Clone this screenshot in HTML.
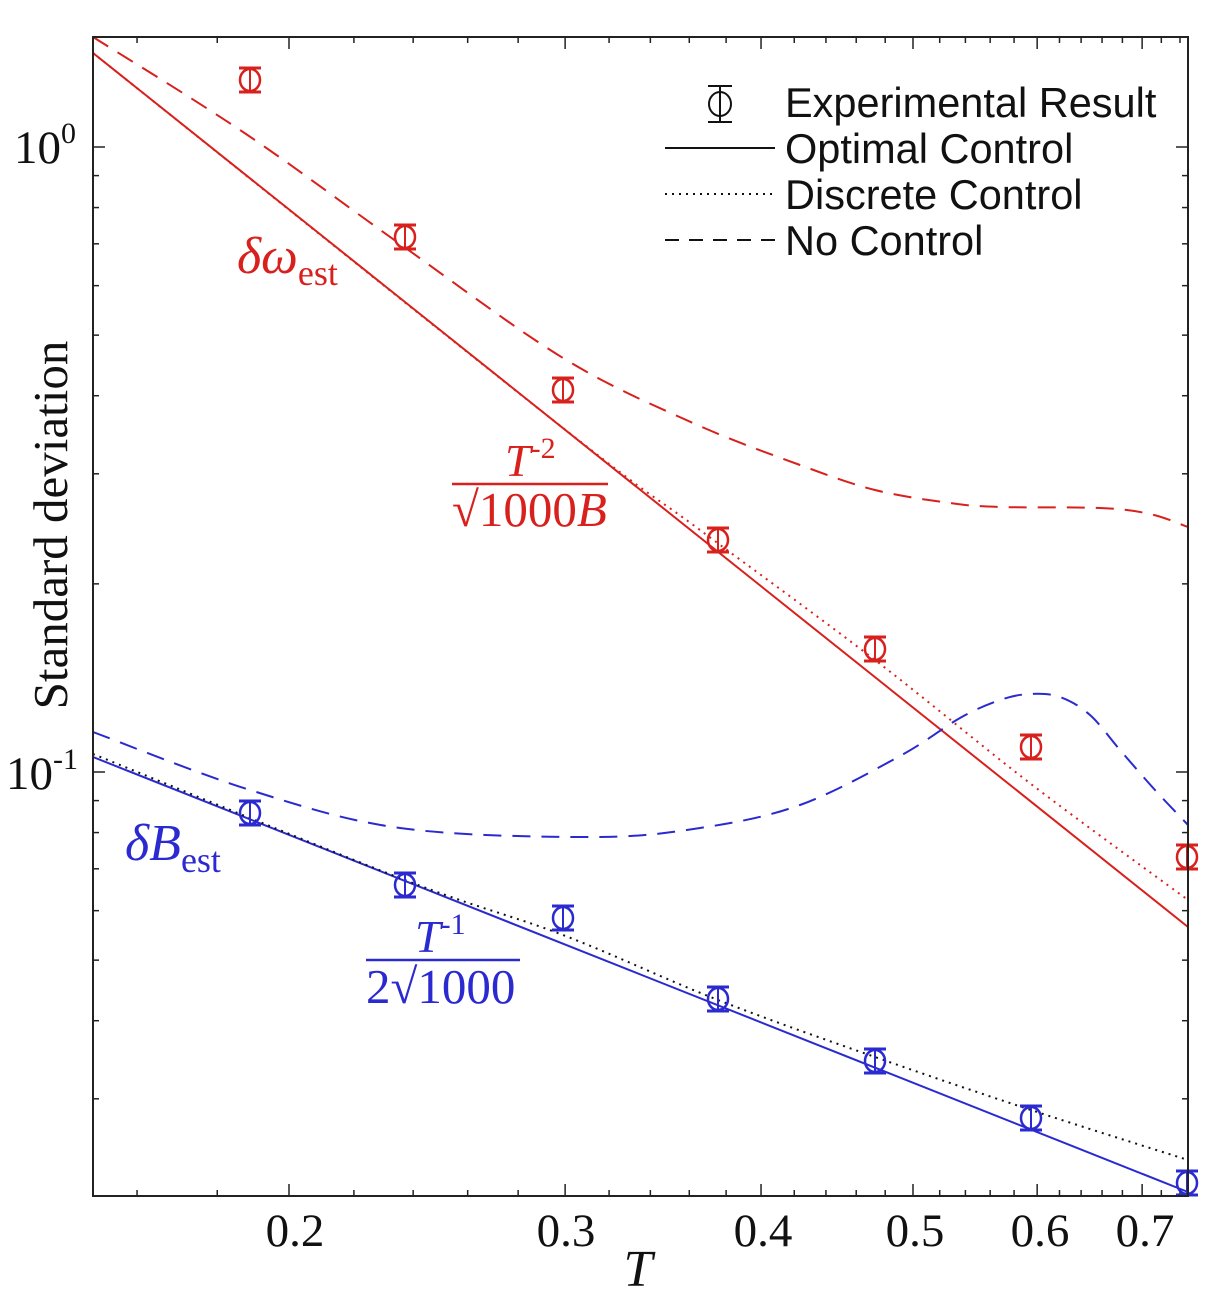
<!DOCTYPE html>
<html><head><meta charset="utf-8"><style>
html,body{margin:0;padding:0;background:#fff;}
svg{display:block;}
</style></head><body>
<svg id="s" width="1226" height="1310" xmlns="http://www.w3.org/2000/svg">
<rect width="1226" height="1310" fill="#fff"/>
<g id="g"></g>
<rect x="93" y="37" width="1095" height="1159" fill="none" stroke="#222" stroke-width="2"/>
<g font-family="Liberation Serif, serif" font-size="47" fill="#111">
<text x="295" y="1246" text-anchor="middle">0.2</text>
<text x="566" y="1246" text-anchor="middle">0.3</text>
<text x="763" y="1246" text-anchor="middle">0.4</text>
<text x="915" y="1246" text-anchor="middle">0.5</text>
<text x="1040" y="1246" text-anchor="middle">0.6</text>
<text x="1145" y="1246" text-anchor="middle">0.7</text>
<text x="14" y="163">10<tspan font-size="30" dy="-20">0</tspan></text>
<text x="6" y="789">10<tspan font-size="30" dy="-20">-1</tspan></text>
<text x="638" y="1286" font-size="52" font-style="italic" text-anchor="middle">T</text>
<text transform="translate(67,525) rotate(-90)" font-size="49" text-anchor="middle">Standard deviation</text>
</g>
<g font-family="Liberation Serif, serif" fill="#d8201c">
<text x="237" y="273" font-size="52" font-style="italic">δω<tspan font-style="normal" font-size="36" dy="12">est</tspan></text>
<text x="505" y="476" font-size="46" font-style="italic">T<tspan font-style="normal" font-size="30" dy="-18">-2</tspan></text>
<line x1="452" y1="484" x2="608" y2="484" stroke="#d8201c" stroke-width="2.5"/>
<text x="452" y="526" font-size="49">√1000<tspan font-style="italic">B</tspan></text>
</g>
<g font-family="Liberation Serif, serif" fill="#2a2ad0">
<text x="125" y="860" font-size="52" font-style="italic">δB<tspan font-style="normal" font-size="36" dy="12">est</tspan></text>
<text x="415" y="952" font-size="46" font-style="italic">T<tspan font-style="normal" font-size="30" dy="-18">-1</tspan></text>
<line x1="366" y1="960" x2="520" y2="960" stroke="#2a2ad0" stroke-width="2.5"/>
<text x="366" y="1003" font-size="49">2√1000</text>
</g>
<g font-family="Liberation Sans, sans-serif" font-size="41.5" fill="#111">
<text x="785" y="117">Experimental Result</text>
<text x="785" y="163">Optimal Control</text>
<text x="785" y="209">Discrete Control</text>
<text x="785" y="255">No Control</text>
</g>
<g stroke="#111" stroke-width="2" fill="none">
<line x1="665" y1="148" x2="775" y2="148"/>
<line x1="665" y1="194" x2="775" y2="194" stroke-dasharray="2,5"/>
<line x1="665" y1="240" x2="775" y2="240" stroke-dasharray="14,10"/>
<line x1="708" y1="86" x2="732" y2="86"/><line x1="708" y1="122" x2="732" y2="122"/>
<line x1="720" y1="86" x2="720" y2="122"/>
<ellipse cx="720" cy="104" rx="11" ry="12"/>
</g>
</svg>
<script>
const g=document.getElementById('g');const NS='http://www.w3.org/2000/svg';
function X(t){return 289+681*Math.log(t/0.2);}
function Y(v){return 147-625*Math.log10(v);}
function el(n,a){const e=document.createElementNS(NS,n);for(const k in a)e.setAttribute(k,a[k]);g.appendChild(e);return e;}
function ln(x1,y1,x2,y2,c,w,d){const a={x1,y1,x2,y2,stroke:c,'stroke-width':w||2};if(d)a['stroke-dasharray']=d;el('line',a);}
for(let i=16;i<=74;i+=2){const t=i/100;const maj=(i%10===0&&i>=20);const x=X(t);const L=maj?12:6;
ln(x,1196,x,1196-L,'#222',1.5);ln(x,37,x,37+L,'#222',1.5);}
const yt=[];for(let k=3;k<=9;k++)yt.push([k/100,0]);yt.push([0.1,1]);for(let k=2;k<=9;k++)yt.push([k/10,0]);yt.push([1,1]);
yt.forEach(([v,m])=>{const y=Y(v);const L=m?12:6;ln(93,y,93+L,y,'#222',1.5);ln(1188,y,1188-L,y,'#222',1.5);});
function smooth(p){let d='M'+p[0][0]+','+p[0][1];for(let i=0;i<p.length-1;i++){const p0=p[i-1]||p[i],p1=p[i],p2=p[i+1],p3=p[i+2]||p2;
const c1=[p1[0]+(p2[0]-p0[0])/6,p1[1]+(p2[1]-p0[1])/6],c2=[p2[0]-(p3[0]-p1[0])/6,p2[1]-(p3[1]-p1[1])/6];
d+=' C'+c1+' '+c2+' '+p2;}return d;}
function path(pts,c,d){el('path',{d:smooth(pts),fill:'none',stroke:c,'stroke-width':2,'stroke-dasharray':d||'none'});}
const R='#d8201c',B='#2a2ad0';
path([[93,37],[246,134],[400,244],[563,358],[693,423],[800,465],[875,490],[950,503],[1000,507],[1100,508],[1150,514],[1188,527]],R,'18,11');
path([[93,53],[1188,927]],R);
path([[93,53],[563,428],[700,530],[875,660],[1031,784],[1188,900]],R,'2,5');
path([[93,732],[250,790],[400,828],[590,837],[700,828],[800,805],[900,756],[960,718],[1000,700],[1030,694],[1060,697],[1090,715],[1120,750],[1155,790],[1188,825]],B,'18,11');
path([[93,757],[1188,1192]],B);
path([[93,754],[405,880],[563,935],[718,1000],[875,1057],[1031,1110],[1188,1160]],'#111','2,5');
function pt(x,y,c){ln(x-11,y-12,x+11,y-12,c,3);ln(x-11,y+12,x+11,y+12,c,3);ln(x,y-12,x,y+12,c,2);
el('ellipse',{cx:x,cy:y,rx:10,ry:11,fill:'none',stroke:c,'stroke-width':2.5});}
[[250,80],[405,237],[563,390],[718,540],[875,649],[1031,747],[1187,857]].forEach(p=>pt(p[0],p[1],R));
[[250,813],[405,885],[563,918],[718,999],[875,1061],[1031,1118],[1187,1183]].forEach(p=>pt(p[0],p[1],B));
</script>
</body></html>
